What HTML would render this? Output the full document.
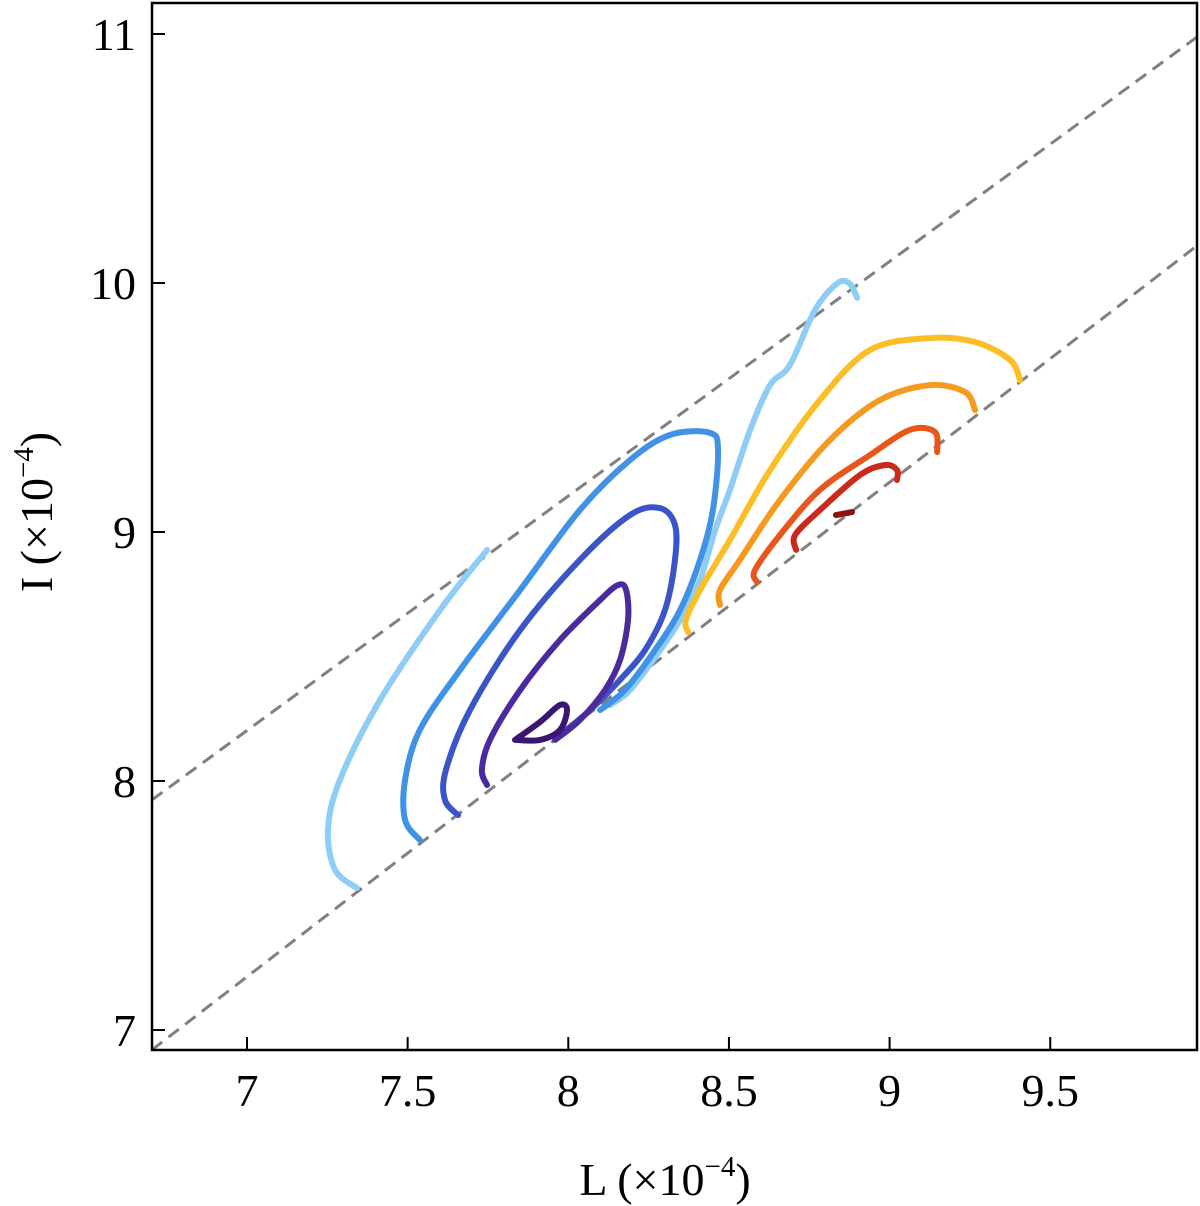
<!DOCTYPE html>
<html><head><meta charset="utf-8"><style>
body{margin:0;background:#fff}
svg{display:block}
text{font-family:"Liberation Serif",serif;fill:#000}
</style></head><body>
<svg id="chart" width="1200" height="1206" viewBox="0 0 1200 1206" xmlns="http://www.w3.org/2000/svg">
<defs><clipPath id="clip"><rect x="152" y="3" width="1045" height="1047"/></clipPath></defs>
<g id="plot" clip-path="url(#clip)"></g>
<rect x="152" y="3" width="1045" height="1047" fill="none" stroke="#000" stroke-width="2.5"/>
<g id="axes"></g>
<text x="665" y="1195" font-size="46" text-anchor="middle">L (×10<tspan font-size="29" dy="-19">−4</tspan><tspan dy="19">)</tspan></text>
<text transform="translate(52,512) rotate(-90)" font-size="46" text-anchor="middle">I (×10<tspan font-size="29" dy="-19">−4</tspan><tspan dy="19">)</tspan></text>
</svg>
<script>
const xTicks=[7,7.5,8,8.5,9,9.5];
const yTicks=[7,8,9,10,11];
const xTickLabels=["7","7.5","8","8.5","9","9.5"];
const yTickLabels=["7","8","9","10","11"];
const dashUpper=[[6.704,7.924],[9.957,10.988]];
const dashLower=[[6.704,6.92],[9.957,10.15]];
const c1=[[7.747,8.928],[7.601,8.687],[7.414,8.325],[7.289,8.004],[7.252,7.803],[7.274,7.643],[7.342,7.570]];
const c2=[[8.899,9.940],[8.877,9.996],[8.839,10.0],[8.768,9.892],[8.690,9.671],[8.628,9.590],[8.566,9.410],[8.503,9.169],[8.457,9.008],[8.410,8.807],[8.348,8.647],[8.286,8.526],[8.192,8.365],[8.130,8.305]];
const c3=[[7.538,7.763],[7.492,7.843],[7.492,8.004],[7.538,8.205],[7.663,8.446],[7.850,8.767],[8.036,9.088],[8.192,9.289],[8.317,9.390],[8.441,9.398],[8.466,9.329],[8.450,9.088],[8.410,8.888],[8.348,8.687],[8.270,8.526],[8.176,8.365],[8.099,8.285]];
const c4=[[7.657,7.863],[7.616,7.924],[7.619,8.044],[7.694,8.285],[7.850,8.606],[8.036,8.888],[8.192,9.068],[8.285,9.096],[8.332,9.028],[8.332,8.888],[8.301,8.687],[8.239,8.526],[8.161,8.406],[8.068,8.285],[7.974,8.185]];
const c5=[[7.747,7.984],[7.731,8.044],[7.756,8.165],[7.850,8.365],[7.974,8.566],[8.099,8.727],[8.155,8.787],[8.180,8.767],[8.186,8.647],[8.161,8.486],[8.114,8.365],[8.036,8.245],[7.959,8.165]];
const c6=[[7.834,8.165],[7.912,8.237],[7.974,8.305],[7.996,8.285],[7.974,8.205],[7.912,8.165],[7.834,8.165]];
const c7=[[8.373,8.598],[8.366,8.647],[8.410,8.767],[8.503,8.968],[8.628,9.249],[8.783,9.530],[8.939,9.731],[9.126,9.779],[9.266,9.763],[9.375,9.691],[9.406,9.610]];
const c8=[[8.472,8.707],[8.472,8.767],[8.534,8.888],[8.659,9.129],[8.814,9.369],[8.970,9.530],[9.126,9.590],[9.235,9.562],[9.266,9.490]];
const c9=[[8.587,8.799],[8.581,8.847],[8.659,8.988],[8.783,9.169],[8.939,9.309],[9.063,9.410],[9.141,9.402],[9.148,9.321]];
const c10=[[8.709,8.928],[8.706,8.988],[8.783,9.088],[8.908,9.229],[8.986,9.269],[9.023,9.249],[9.023,9.209]];
const c11=[[8.833,9.068],[8.883,9.080]];
const contours=[[c1,"#8ecdf5","contour-light-left"],[c2,"#8ecdf5","contour-light-right"],[c3,"#3f92e6","contour-blue"],[c4,"#3b55c9","contour-mid-blue"],[c5,"#4a2a9e","contour-indigo"],[c6,"#3a1572","contour-inner"],[c7,"#fbbf25","contour-yellow"],[c8,"#f5991f","contour-orange"],[c9,"#e8561b","contour-dark-orange"],[c10,"#c92a1c","contour-red"],[c11,"#8c1212","contour-dark-red"]];
const X=v=>247+(v-7)*321.3, Y=v=>1030-(v-7)*249;
const NS="http://www.w3.org/2000/svg";
const plot=document.getElementById('plot'), axes=document.getElementById('axes');
function mk(tag,attrs,parent){const e=document.createElementNS(NS,tag);for(const k in attrs)e.setAttribute(k,attrs[k]);parent.appendChild(e);return e;}
[[dashUpper,"dashed-line-upper"],[dashLower,"dashed-line-lower"]].forEach(([d,n])=>{
 const l=mk('line',{x1:X(d[0][0]),y1:Y(d[0][1]),x2:X(d[1][0]),y2:Y(d[1][1]),stroke:"#808080","stroke-width":3,"stroke-dasharray":"13 8"},plot);
 
 
});
function smooth(pts){
 const p=pts.map(q=>[X(q[0]),Y(q[1])]);
 let d="M"+p[0][0]+","+p[0][1];
 for(let i=0;i<p.length-1;i++){
  const p0=p[i-1]||p[i],p1=p[i],p2=p[i+1],p3=p[i+2]||p2;
  d+=" C"+(p1[0]+(p2[0]-p0[0])/6)+","+(p1[1]+(p2[1]-p0[1])/6)+" "+(p2[0]-(p3[0]-p1[0])/6)+","+(p2[1]-(p3[1]-p1[1])/6)+" "+p2[0]+","+p2[1];
 }
 return d;
}
contours.forEach(([pts,col,n])=>{
 const e=mk('path',{d:smooth(pts),fill:"none",stroke:col,"stroke-width":6,"stroke-linecap":"round","stroke-linejoin":"round"},plot);
 
 
});
xTicks.forEach((v,i)=>{
 const t=mk('line',{x1:X(v),y1:1050,x2:X(v),y2:1037,stroke:"#000","stroke-width":2},axes);
 
 
 const l=mk('text',{x:X(v),y:1106,"font-size":46,"text-anchor":"middle"},axes);l.textContent=xTickLabels[i];
 
 
});
yTicks.forEach((v,i)=>{
 const t=mk('line',{x1:152,y1:Y(v),x2:165,y2:Y(v),stroke:"#000","stroke-width":2},axes);
 
 
 const l=mk('text',{x:136,y:Y(v)+16,"font-size":46,"text-anchor":"end"},axes);l.textContent=yTickLabels[i];
 
 
});
</script>
</body></html>
